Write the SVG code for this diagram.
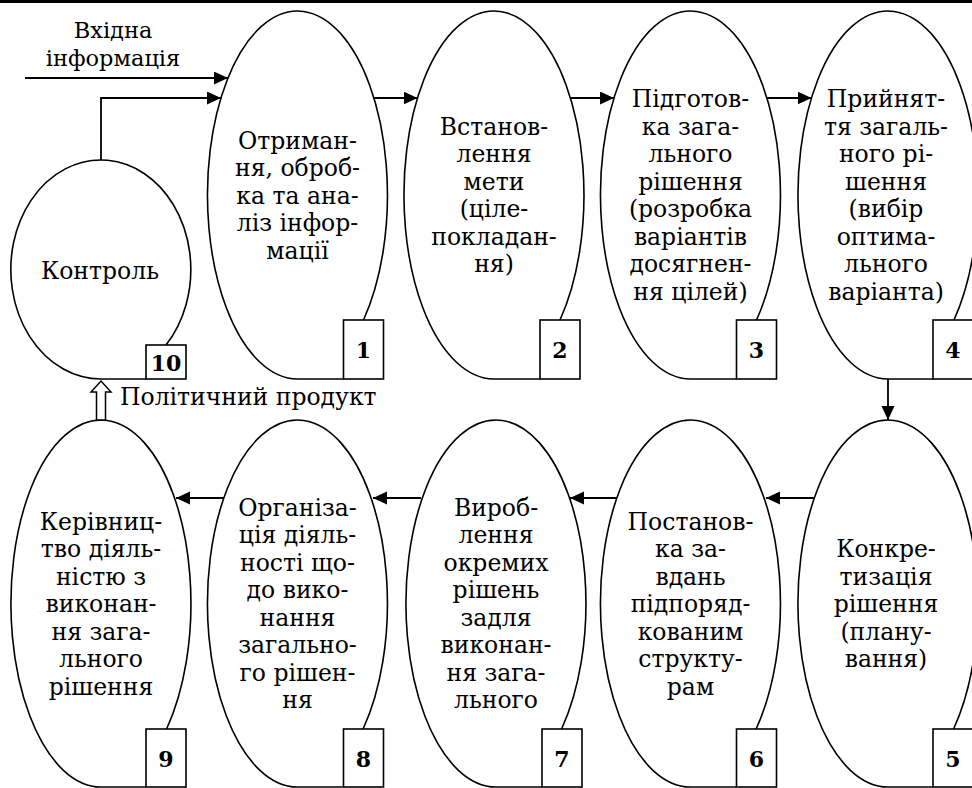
<svg xmlns="http://www.w3.org/2000/svg" width="972" height="788" viewBox="0 0 972 788">
<style>
.sh{fill:#fff;stroke:#000;stroke-width:1.6}
.bx{fill:#fff;stroke:#000;stroke-width:1.6}
.t{font-family:"DejaVu Serif","Liberation Serif",serif;font-size:23.5px;fill:#000;text-anchor:middle}
.tl{font-family:"DejaVu Serif","Liberation Serif",serif;font-size:23.5px;fill:#000}
.n{font-family:"DejaVu Serif","Liberation Serif",serif;font-size:22px;font-weight:bold;fill:#000;text-anchor:middle}
.c{fill:none;stroke:#000;stroke-width:1.8}
</style>
<defs>
<marker id="ah" markerUnits="userSpaceOnUse" markerWidth="15" markerHeight="14" refX="14" refY="6.5" orient="auto">
<path d="M0,0 L14,6.5 L0,13 Z" fill="#000"/>
</marker>
</defs>
<rect x="0" y="0" width="972" height="788" fill="#fff"/>
<rect x="0" y="0" width="972" height="3" fill="#000"/>

<g id="node1">
<path class="sh" d="M343.5,379 L297.5,379 A90 184 0 1 1 363.5,320"/>
<rect class="bx" x="343.5" y="320" width="40" height="59"/>
<text class="n" x="363.5" y="358">1</text>
<text class="t" y="148.5"><tspan x="297.5">Отриман-</tspan><tspan x="297.5" dy="27.5">ня, оброб-</tspan><tspan x="297.5" dy="27.5">ка та ана-</tspan><tspan x="297.5" dy="27.5">ліз інфор-</tspan><tspan x="297.5" dy="27.5">мації</tspan></text>
</g>

<g id="node2">
<path class="sh" d="M540,379 L494,379 A90 184 0 1 1 560,320"/>
<rect class="bx" x="540" y="320" width="40" height="59"/>
<text class="n" x="560" y="358">2</text>
<text class="t" y="134.75"><tspan x="494">Встанов-</tspan><tspan x="494" dy="27.5">лення</tspan><tspan x="494" dy="27.5">мети</tspan><tspan x="494" dy="27.5">(ціле-</tspan><tspan x="494" dy="27.5">покладан-</tspan><tspan x="494" dy="27.5">ня)</tspan></text>
</g>

<g id="node3">
<path class="sh" d="M736.5,379 L690.5,379 A90 184 0 1 1 756.5,320"/>
<rect class="bx" x="736.5" y="320" width="40" height="59"/>
<text class="n" x="756.5" y="358">3</text>
<text class="t" y="107.25"><tspan x="690.5">Підготов-</tspan><tspan x="690.5" dy="27.5">ка зага-</tspan><tspan x="690.5" dy="27.5">льного</tspan><tspan x="690.5" dy="27.5">рішення</tspan><tspan x="690.5" dy="27.5">(розробка</tspan><tspan x="690.5" dy="27.5">варіантів</tspan><tspan x="690.5" dy="27.5">досягнен-</tspan><tspan x="690.5" dy="27.5">ня цілей)</tspan></text>
</g>

<g id="node4">
<path class="sh" d="M933,379 L888,379 A90 184 0 1 1 954,320"/>
<rect class="bx" x="933" y="320" width="40" height="59"/>
<text class="n" x="953" y="358">4</text>
<text class="t" y="107.25"><tspan x="886">Прийнят-</tspan><tspan x="886" dy="27.5">тя загаль-</tspan><tspan x="886" dy="27.5">ного рі-</tspan><tspan x="886" dy="27.5">шення</tspan><tspan x="886" dy="27.5">(вибір</tspan><tspan x="886" dy="27.5">оптима-</tspan><tspan x="886" dy="27.5">льного</tspan><tspan x="886" dy="27.5">варіанта)</tspan></text>
</g>

<g id="node5">
<path class="sh" d="M933,787 L888,787 A90 183.5 0 1 1 953.6,729"/>
<rect class="bx" x="933" y="729" width="40" height="58"/>
<text class="n" x="953" y="767">5</text>
<text class="t" y="557"><tspan x="886">Конкре-</tspan><tspan x="886" dy="27.5">тизація</tspan><tspan x="886" dy="27.5">рішення</tspan><tspan x="886" dy="27.5">(плану-</tspan><tspan x="886" dy="27.5">вання)</tspan></text>
</g>

<g id="node6">
<path class="sh" d="M736.5,787 L690.5,787 A90 183.5 0 1 1 756.1,729"/>
<rect class="bx" x="736.5" y="729" width="40" height="58"/>
<text class="n" x="756.5" y="767">6</text>
<text class="t" y="529.5"><tspan x="690.5">Постанов-</tspan><tspan x="690.5" dy="27.5">ка за-</tspan><tspan x="690.5" dy="27.5">вдань</tspan><tspan x="690.5" dy="27.5">підпоряд-</tspan><tspan x="690.5" dy="27.5">кованим</tspan><tspan x="690.5" dy="27.5">структу-</tspan><tspan x="690.5" dy="27.5">рам</tspan></text>
</g>

<g id="node7">
<path class="sh" d="M542,787 L496,787 A90 183.5 0 1 1 561.6,729"/>
<rect class="bx" x="542" y="729" width="40" height="58"/>
<text class="n" x="562" y="767">7</text>
<text class="t" y="515.75"><tspan x="496">Вироб-</tspan><tspan x="496" dy="27.5">лення</tspan><tspan x="496" dy="27.5">окремих</tspan><tspan x="496" dy="27.5">рішень</tspan><tspan x="496" dy="27.5">задля</tspan><tspan x="496" dy="27.5">виконан-</tspan><tspan x="496" dy="27.5">ня зага-</tspan><tspan x="496" dy="27.5">льного</tspan></text>
</g>

<g id="node8">
<path class="sh" d="M343.5,787 L297.5,787 A90 183.5 0 1 1 363.1,729"/>
<rect class="bx" x="343.5" y="729" width="40" height="58"/>
<text class="n" x="363.5" y="767">8</text>
<text class="t" y="515.75"><tspan x="297.5">Організа-</tspan><tspan x="297.5" dy="27.5">ція діяль-</tspan><tspan x="297.5" dy="27.5">ності що-</tspan><tspan x="297.5" dy="27.5">до вико-</tspan><tspan x="297.5" dy="27.5">нання</tspan><tspan x="297.5" dy="27.5">загально-</tspan><tspan x="297.5" dy="27.5">го рішен-</tspan><tspan x="297.5" dy="27.5">ня</tspan></text>
</g>

<g id="node9">
<path class="sh" d="M146,787 L101,787 A90 183.5 0 1 1 166.6,729"/>
<rect class="bx" x="146" y="729" width="40" height="58"/>
<text class="n" x="166" y="767">9</text>
<text class="t" y="529.5"><tspan x="101">Керівниц-</tspan><tspan x="101" dy="27.5">тво діяль-</tspan><tspan x="101" dy="27.5">ністю з</tspan><tspan x="101" dy="27.5">виконан-</tspan><tspan x="101" dy="27.5">ня зага-</tspan><tspan x="101" dy="27.5">льного</tspan><tspan x="101" dy="27.5">рішення</tspan></text>
</g>

<g id="node10">
<path class="sh" d="M146,379 L101,379 A90 109.5 0 1 1 166,345"/>
<rect class="bx" x="146" y="345" width="40" height="34"/>
<text class="n" x="166" y="371">10</text>
<text class="t" x="100" y="279">Контроль</text>
</g>

<g id="connectors">
<path class="c" d="M25,78 L228,78" marker-end="url(#ah)"/>
<path class="c" d="M101,160 L101,98 L221,98" marker-end="url(#ah)"/>
<path class="c" d="M374,98 L417.5,98" marker-end="url(#ah)"/>
<path class="c" d="M570.5,98 L614,98" marker-end="url(#ah)"/>
<path class="c" d="M767,98 L811.5,98" marker-end="url(#ah)"/>
<path class="c" d="M888,379 L888,420" marker-end="url(#ah)"/>
<path class="c" d="M814,498 L766,498" marker-end="url(#ah)"/>
<path class="c" d="M617,498 L570,498" marker-end="url(#ah)"/>
<path class="c" d="M421,498 L373,498" marker-end="url(#ah)"/>
<path class="c" d="M224,498 L176,498" marker-end="url(#ah)"/>
<polygon points="96.5,420 96.5,392 91,392 101,381 111,392 105.5,392 105.5,420" fill="#fff" stroke="#000" stroke-width="1.5"/>
<text class="t" y="38" style="font-size:22.5px"><tspan x="113">Вхідна</tspan><tspan x="113" dy="27.5">інформація</tspan></text>
<text class="tl" x="120" y="405">Політичний продукт</text>
</g>
</svg>
